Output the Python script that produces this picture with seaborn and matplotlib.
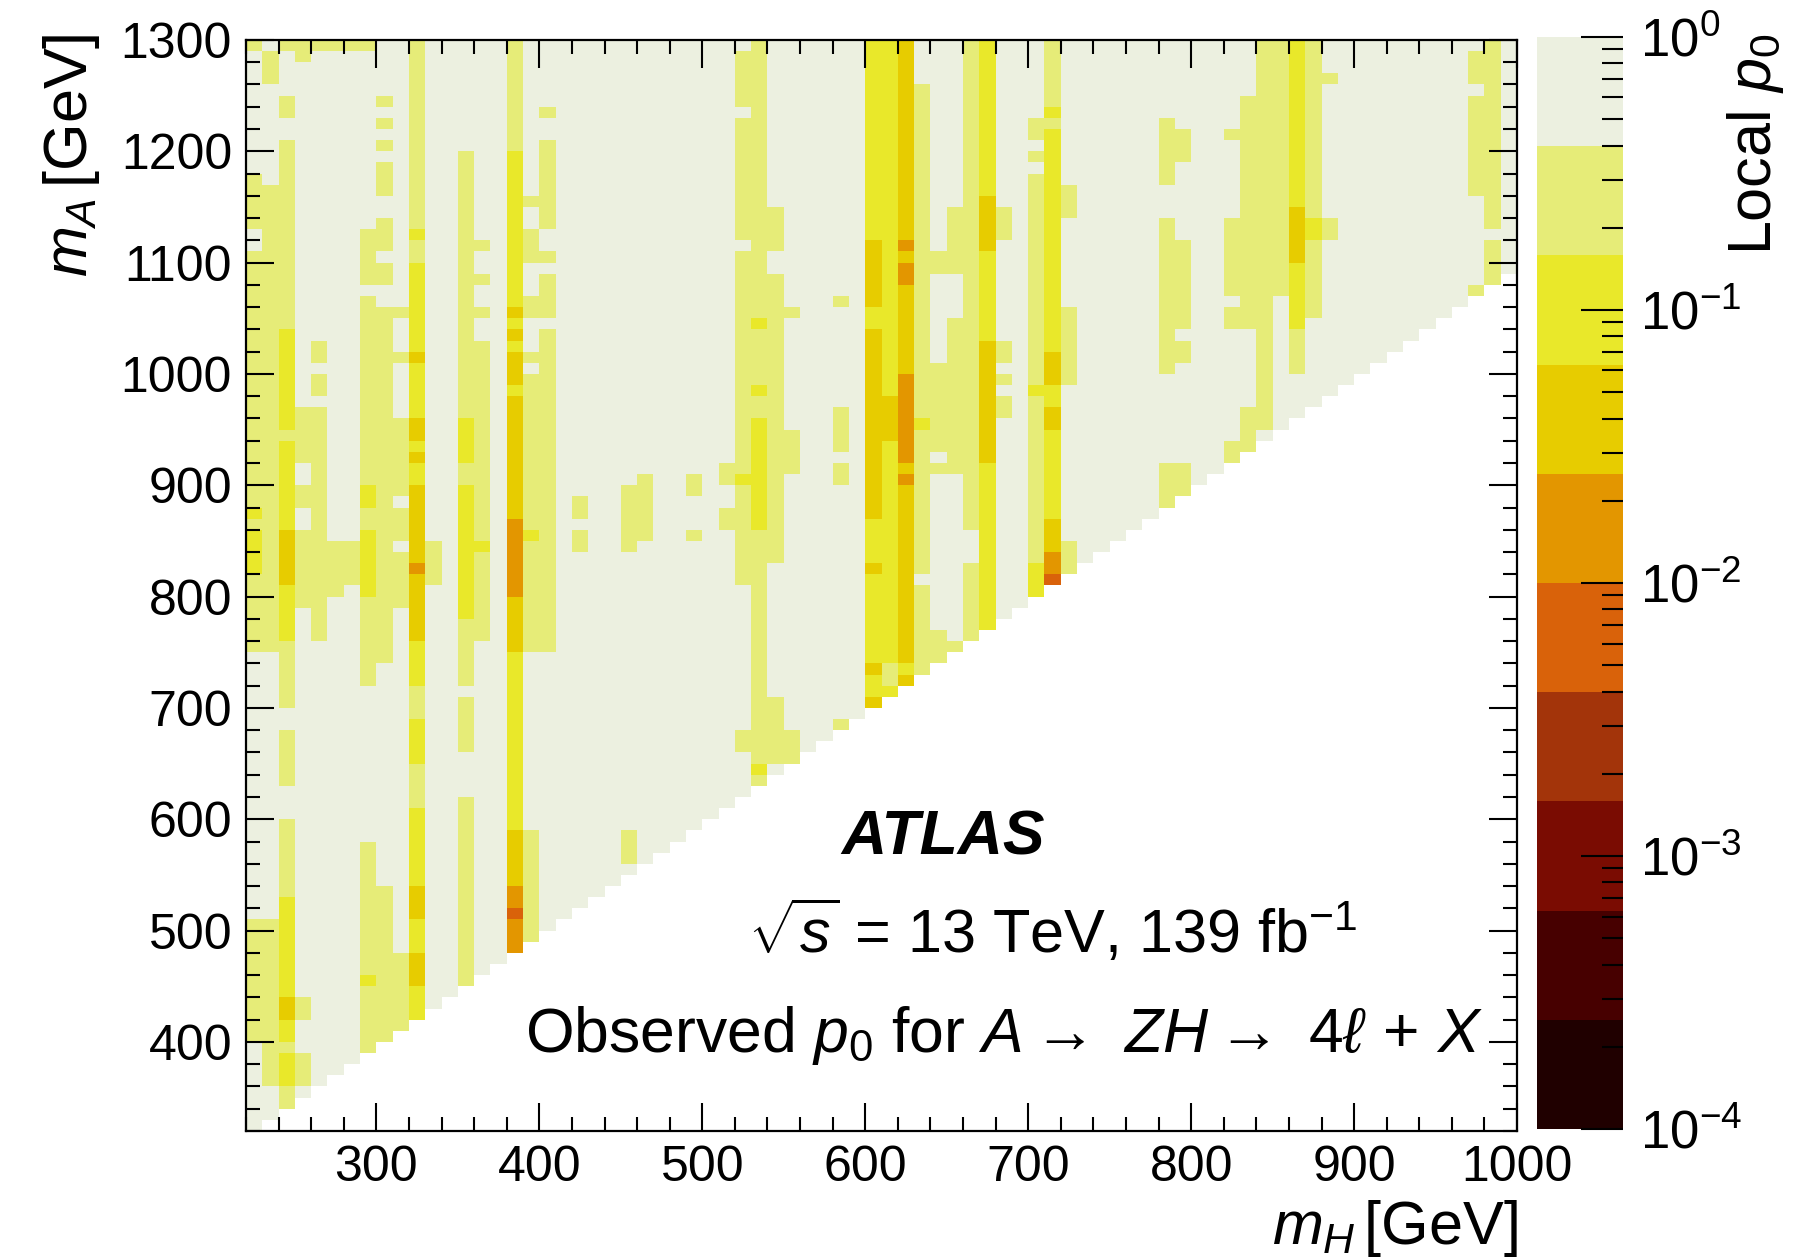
import numpy as np
import pandas as pd
import matplotlib
matplotlib.use("Agg")
import matplotlib.pyplot as plt
import seaborn as sns
from matplotlib.colors import ListedColormap, LogNorm
from matplotlib.ticker import MultipleLocator, LogLocator, NullFormatter

# ---- binning of the scan (GeV) ----
mh_edges = np.arange(220, 1001, 10)
ma_edges = np.arange(320, 1301, 10)
min_split = 100          # m_A - m_H below this is not scanned (white)

# colour bands of the local p0 palette, from 1e-4 up to 1 (0.4 decade each)
band_colors = ["#200000", "#470000", "#7a0c02", "#a3340a", "#d9620a",
               "#e39600", "#e7cc00", "#e9e82a", "#e6ec78", "#ecf0e0"]
# representative p0 for the levels (0 = background)
level_p0 = [0.6, 0.25, 0.1, 0.04, 0.016, 0.0063]

# regions above background: (mH lo, mH hi, mA lo, mA hi, level)
hot_spots = [
    # 220 - 260
    (220, 230, 1290, 1300, 1), (220, 230, 1130, 1180, 1), (220, 230, 750, 1110, 1),
    (220, 230, 870, 880, 2), (220, 240, 820, 860, 2), (220, 230, 400, 510, 1),
    (230, 240, 420, 440, 2),
    (230, 240, 1260, 1290, 1), (230, 240, 750, 1170, 1), (230, 240, 360, 510, 1),
    (240, 250, 1290, 1300, 1), (240, 250, 1230, 1250, 1), (240, 250, 700, 1210, 1),
    (240, 250, 950, 1040, 2), (240, 250, 860, 940, 2), (240, 250, 810, 860, 3),
    (240, 250, 760, 810, 2), (240, 250, 630, 680, 1), (240, 250, 340, 600, 1),
    (240, 250, 440, 530, 2), (240, 250, 420, 440, 3), (240, 250, 400, 420, 2),
    (240, 250, 360, 390, 2),
    (250, 260, 1280, 1300, 1), (250, 260, 920, 970, 1), (250, 260, 880, 900, 1),
    (250, 260, 790, 860, 1), (250, 260, 420, 440, 1), (250, 260, 360, 390, 1),
    # 260 - 320
    (260, 270, 1290, 1300, 1), (260, 270, 1010, 1030, 1), (260, 270, 980, 1000, 1),
    (260, 270, 760, 970, 1),
    (270, 280, 1290, 1300, 1), (270, 280, 800, 850, 1),
    (280, 290, 1290, 1300, 1), (280, 290, 810, 850, 1),
    (290, 300, 1290, 1300, 1), (290, 300, 1080, 1130, 1), (290, 300, 720, 1070, 1),
    (290, 300, 880, 900, 2), (290, 300, 800, 860, 2), (290, 300, 390, 580, 1),
    (290, 300, 450, 460, 2),
    (300, 310, 1240, 1250, 1), (300, 310, 1220, 1230, 1), (300, 310, 1200, 1210, 1),
    (300, 310, 1160, 1190, 1), (300, 310, 1110, 1140, 1), (300, 310, 1080, 1100, 1),
    (300, 310, 740, 1060, 1), (300, 310, 390, 540, 1),
    (310, 320, 1050, 1060, 1), (310, 320, 1010, 1020, 1), (310, 320, 890, 960, 1),
    (310, 320, 850, 880, 1), (310, 320, 790, 840, 1), (310, 320, 410, 480, 1),
    # strip at 325
    (320, 330, 1130, 1300, 1), (320, 330, 1120, 1130, 2), (320, 330, 1100, 1120, 1),
    (320, 330, 1020, 1100, 2), (320, 330, 1010, 1020, 3), (320, 330, 960, 1010, 2),
    (320, 330, 940, 960, 3), (320, 330, 930, 940, 2), (320, 330, 920, 930, 3),
    (320, 330, 900, 920, 2), (320, 330, 830, 900, 3), (320, 330, 820, 830, 4),
    (320, 330, 760, 820, 3), (320, 330, 720, 760, 2), (320, 330, 690, 720, 1),
    (320, 330, 650, 690, 2), (320, 330, 610, 650, 1), (320, 330, 540, 610, 2),
    (320, 330, 510, 540, 3), (320, 330, 480, 510, 2), (320, 330, 450, 480, 3),
    (320, 330, 420, 450, 2),
    (330, 340, 810, 850, 1),
    (350, 360, 960, 1200, 1), (350, 360, 920, 960, 2), (350, 360, 900, 920, 1),
    (350, 360, 780, 900, 2), (350, 360, 720, 780, 1), (350, 360, 660, 710, 1),
    (350, 360, 450, 620, 1),
    (360, 370, 1110, 1120, 1), (360, 370, 1080, 1090, 1), (360, 370, 1050, 1060, 1),
    (360, 370, 760, 1030, 1), (360, 370, 840, 850, 2),
    # strip at 385
    (380, 390, 1200, 1300, 1), (380, 390, 1060, 1200, 2), (380, 390, 1050, 1060, 3),
    (380, 390, 1040, 1050, 2), (380, 390, 1030, 1040, 3), (380, 390, 1020, 1030, 2),
    (380, 390, 990, 1020, 3), (380, 390, 980, 990, 2), (380, 390, 870, 980, 3),
    (380, 390, 800, 870, 4), (380, 390, 750, 800, 3), (380, 390, 590, 750, 2),
    (380, 390, 540, 590, 3), (380, 390, 520, 540, 4), (380, 390, 510, 520, 5),
    (380, 390, 480, 510, 4),
    (390, 400, 1150, 1160, 1), (390, 400, 1100, 1130, 1), (390, 400, 1050, 1070, 1),
    (390, 400, 1010, 1020, 1), (390, 400, 750, 1000, 1), (390, 400, 850, 860, 2),
    (390, 400, 490, 590, 1),
    (400, 410, 1230, 1240, 1), (400, 410, 1130, 1210, 1), (400, 410, 1100, 1110, 1),
    (400, 410, 1050, 1090, 1), (400, 410, 750, 1040, 1),
    # 420 - 600
    (420, 430, 870, 890, 1), (420, 430, 840, 860, 1),
    (450, 460, 840, 900, 1), (450, 460, 560, 590, 1), (460, 470, 850, 910, 1),
    (490, 500, 890, 910, 1), (490, 500, 850, 860, 1),
    (510, 520, 900, 920, 1), (510, 520, 860, 880, 1),
    (520, 530, 1240, 1290, 1), (520, 530, 1120, 1230, 1), (520, 530, 810, 1110, 1),
    (520, 530, 900, 910, 2), (520, 530, 660, 680, 1),
    (530, 540, 630, 1300, 1), (530, 540, 1040, 1050, 2), (530, 540, 980, 990, 2),
    (530, 540, 860, 960, 2), (530, 540, 640, 650, 2),
    (540, 550, 1110, 1150, 1), (540, 550, 830, 1090, 1), (540, 550, 650, 710, 1),
    (550, 560, 1050, 1060, 1), (550, 560, 910, 950, 1), (550, 560, 650, 680, 1),
    (580, 590, 1060, 1070, 1), (580, 590, 930, 970, 1), (580, 590, 900, 920, 1),
    (580, 590, 680, 690, 1),
    # strips at 600 - 630
    (600, 610, 1120, 1300, 2), (600, 610, 1060, 1120, 3), (600, 610, 1040, 1060, 2),
    (600, 610, 870, 1040, 3), (600, 610, 830, 870, 2), (600, 610, 820, 830, 3),
    (600, 610, 740, 820, 2), (600, 610, 730, 740, 3), (600, 610, 710, 730, 2),
    (600, 610, 700, 710, 3),
    (610, 620, 700, 1300, 2), (610, 620, 940, 980, 3), (610, 620, 720, 740, 1),
    (620, 630, 1120, 1300, 3), (620, 630, 1110, 1120, 4), (620, 630, 1100, 1110, 3),
    (620, 630, 1080, 1100, 4), (620, 630, 1000, 1080, 3), (620, 630, 920, 1000, 4),
    (620, 630, 910, 920, 3), (620, 630, 900, 910, 4), (620, 630, 740, 900, 3),
    (620, 630, 730, 740, 2), (620, 630, 720, 730, 3),
    (630, 640, 820, 1260, 1), (630, 640, 950, 960, 2), (630, 640, 730, 810, 1),
    (640, 650, 1090, 1110, 1), (640, 650, 930, 1010, 1), (640, 650, 910, 920, 1),
    (640, 650, 740, 770, 1),
    (650, 660, 1090, 1150, 1), (650, 660, 910, 1050, 1), (650, 660, 750, 760, 1),
    (660, 670, 860, 1300, 1), (660, 670, 760, 830, 1),
    (670, 680, 1160, 1300, 2), (670, 680, 1110, 1160, 3), (670, 680, 1030, 1110, 2),
    (670, 680, 920, 1030, 3), (670, 680, 770, 920, 2),
    (680, 690, 1120, 1150, 1), (680, 690, 1010, 1030, 1), (680, 690, 990, 1000, 1),
    (680, 690, 960, 980, 1),
    (700, 710, 1210, 1230, 1), (700, 710, 1190, 1200, 1), (700, 710, 800, 1180, 1),
    (700, 710, 980, 990, 2), (700, 710, 800, 830, 2),
    (710, 720, 1240, 1300, 1), (710, 720, 1230, 1240, 2), (710, 720, 1220, 1230, 1),
    (710, 720, 1020, 1220, 2), (710, 720, 990, 1020, 3), (710, 720, 970, 990, 2),
    (710, 720, 950, 970, 3), (710, 720, 870, 950, 2), (710, 720, 840, 870, 3),
    (710, 720, 820, 840, 4), (710, 720, 810, 820, 5),
    (720, 730, 1140, 1170, 1), (720, 730, 990, 1060, 1), (720, 730, 820, 850, 1),
    # 780 - 1000
    (780, 790, 1170, 1230, 1), (780, 790, 1000, 1140, 1), (780, 790, 880, 920, 1),
    (790, 800, 1190, 1220, 1), (790, 800, 1040, 1120, 1), (790, 800, 1010, 1030, 1),
    (790, 800, 890, 920, 1),
    (820, 830, 1210, 1220, 1), (820, 830, 1070, 1140, 1), (820, 830, 1040, 1060, 1),
    (820, 830, 920, 940, 1),
    (830, 840, 1040, 1250, 1), (830, 840, 920, 970, 1),
    (840, 850, 950, 1300, 1),
    (850, 860, 1070, 1300, 1),
    (860, 870, 1150, 1300, 2), (860, 870, 1100, 1150, 3), (860, 870, 1040, 1100, 2),
    (860, 870, 1000, 1040, 1),
    (870, 880, 1050, 1300, 1), (870, 880, 1120, 1140, 2),
    (880, 890, 1260, 1270, 1), (880, 890, 1120, 1140, 1),
    (970, 980, 1260, 1290, 1), (970, 980, 1160, 1250, 1), (970, 980, 1070, 1080, 1),
    (980, 990, 1130, 1300, 1), (980, 990, 1080, 1120, 1),
]

x_ticks = [300, 400, 500, 600, 700, 800, 900, 1000]
y_ticks = [400, 500, 600, 700, 800, 900, 1000, 1100, 1200, 1300]

# ---- build the map ----
mh_lo = mh_edges[:-1]
ma_lo = ma_edges[:-1]
level = np.zeros((len(ma_lo), len(mh_lo)), dtype=int)
for h0, h1, a0, a1, lev in hot_spots:
    rows = (ma_lo >= a0) & (ma_lo < a1)
    cols = (mh_lo >= h0) & (mh_lo < h1)
    level[np.ix_(rows, cols)] = lev
p0 = np.array(level_p0)[level]
outside = ma_lo[:, None] < mh_lo[None, :] + min_split

# rows from high m_A (top) to low m_A (bottom)
df = pd.DataFrame(p0[::-1], index=ma_lo[::-1], columns=mh_lo)
mask = outside[::-1]

plt.rcParams['font.family'] = ['Liberation Sans', 'DejaVu Sans']
plt.rcParams['mathtext.fontset'] = 'custom'
plt.rcParams['mathtext.rm'] = 'Liberation Sans'
plt.rcParams['mathtext.it'] = 'Liberation Sans:italic'
plt.rcParams['mathtext.bf'] = 'Liberation Sans:bold'

fig = plt.figure(figsize=(17.93, 12.6), dpi=100)
ax = fig.add_axes([0.1372, 0.1024, 0.7089, 0.8659])
cax = fig.add_axes([0.8573, 0.1040, 0.0480, 0.8667])

sns.heatmap(df, ax=ax, cmap=ListedColormap(band_colors), norm=LogNorm(1e-4, 1),
            mask=mask, cbar=True, cbar_ax=cax, xticklabels=False, yticklabels=False)

# axes in GeV: cell index -> mass
ax.set_xticks([(v - mh_edges[0]) / 10 for v in x_ticks])
ax.set_xticklabels([str(v) for v in x_ticks])
ax.xaxis.set_minor_locator(MultipleLocator(2))
ax.set_yticks([(ma_edges[-1] - v) / 10 for v in y_ticks])
ax.set_yticklabels([str(v) for v in y_ticks])
ax.yaxis.set_minor_locator(MultipleLocator(2))
ax.set_xlabel('')
ax.set_ylabel('')
for s in ax.spines.values():
    s.set_visible(True)
    s.set_linewidth(1.6)
ax.tick_params(which='both', direction='in', top=True, right=True, width=1.5,
               labelsize=36, pad=10)
ax.tick_params(which='major', length=20)
ax.tick_params(which='minor', length=10)

# colour bar in ROOT style
cax.yaxis.set_ticks_position('right')
cax.yaxis.set_major_locator(LogLocator(base=10, numticks=10))
cax.yaxis.set_minor_locator(LogLocator(base=10, subs=np.arange(2, 10), numticks=10))
cax.yaxis.set_minor_formatter(NullFormatter())
cax.tick_params(which='both', direction='in', width=1.5, labelsize=38, pad=12)
cax.tick_params(which='major', length=30)
cax.tick_params(which='minor', length=15)
cax.yaxis.set_major_formatter(plt.FuncFormatter(
    lambda v, pos: r'$10^{%d}$' % round(np.log10(v))))
cax.spines['left'].set_color('#9a9a9a')
cax.spines['left'].set_linewidth(3)

fig.text(0.0396, 0.973, r'$m_A\,$[GeV]', rotation=90, ha='center', va='top', fontsize=44)
fig.text(0.8466, 0.025, r'$m_H\,$[GeV]', ha='right', va='center', fontsize=44)
fig.text(0.979, 0.973, r'Local $p_0$', rotation=90, ha='center', va='top', fontsize=44)

fig.text(0.526, 0.335, 'ATLAS', ha='center', va='center', fontsize=45,
         fontweight='bold', fontstyle='italic')
fig.text(0.587, 0.26, r'$\sqrt{s}$ = 13 TeV, 139 fb$^{-1}$', ha='center', va='center',
         fontsize=44)
fig.text(0.560, 0.178, r'Observed $p_0$ for $A\rightarrow\ ZH\rightarrow\ 4\ell\,+\,X$',
         ha='center', va='center', fontsize=45)

fig.savefig('out.png', dpi=100)
